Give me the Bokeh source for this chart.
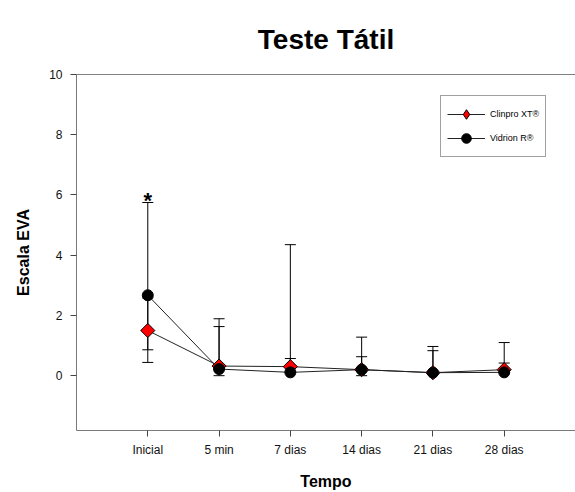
from bokeh.plotting import figure
from bokeh.models import (ColumnDataSource, Range1d, Whisker, TeeHead, Legend, LegendItem,
                          Span, Label, FixedTicker)
from bokeh.embed import file_html
from bokeh.resources import INLINE

# ---- data ----
title_text = "Teste Tátil"
categories = ["Inicial", "5 min", "7 dias", "14 dias", "21 dias", "28 dias"]
clinpro_mean = [1.50, 0.32, 0.30, 0.20, 0.10, 0.20]
clinpro_upper = [2.58, 1.63, 4.35, 0.63, 0.83, 0.42]
clinpro_lower = [0.44, 0.00, 0.30, 0.00, 0.10, 0.20]
vidrion_mean = [2.67, 0.22, 0.11, 0.20, 0.10, 0.11]
vidrion_upper = [5.75, 1.89, 0.57, 1.28, 0.97, 1.10]
vidrion_lower = [0.86, 0.22, 0.11, 0.20, 0.10, 0.11]
y_ticks = [0, 2, 4, 6, 8, 10]

FONT = "Liberation Sans"
xs = list(range(1, len(categories) + 1))

p = figure(width=575, height=492, output_backend="svg", toolbar_location=None,
           x_range=Range1d(0, 7), y_range=Range1d(-1.82, 10),
           min_border_left=76, min_border_right=0, min_border_top=74, min_border_bottom=61)

p.title.text = title_text
p.title.text_font = FONT
p.title.text_font_size = "28px"
p.title.text_font_style = "bold"
p.title.text_color = "black"
p.title.align = "center"
p.title.offset = 5
p.title.standoff = 40

p.outline_line_color = None
p.xgrid.visible = False
p.ygrid.visible = False

p.xaxis.ticker = FixedTicker(ticks=xs)
p.xaxis.major_label_overrides = {i + 1: c for i, c in enumerate(categories)}
p.yaxis.ticker = FixedTicker(ticks=y_ticks)

for ax in (p.xaxis[0], p.yaxis[0]):
    ax.axis_line_color = "#7a7a7a"
    ax.major_tick_line_color = "#444444"
    ax.major_tick_out = 6
    ax.major_tick_in = 0
    ax.minor_tick_line_color = None
    ax.major_label_text_font = FONT
    ax.major_label_text_font_size = "12px"
    ax.major_label_text_color = "#111111"
    ax.axis_label_text_font = FONT
    ax.axis_label_text_font_size = "16px"
    ax.axis_label_text_font_style = "bold"
    ax.axis_label_text_color = "black"

p.xaxis.axis_label = "Tempo"
p.xaxis.major_label_standoff = 6
p.xaxis.axis_label_standoff = 13
p.yaxis.axis_label = "Escala EVA"
p.yaxis.major_label_standoff = 8
p.yaxis.axis_label_standoff = 14

p.add_layout(Span(location=10, dimension="width", line_color="black", line_width=1))

src_c = ColumnDataSource(dict(x=xs, y=clinpro_mean, up=clinpro_upper, lo=clinpro_lower))
src_v = ColumnDataSource(dict(x=xs, y=vidrion_mean, up=vidrion_upper, lo=vidrion_lower))

for src in (src_c, src_v):
    p.add_layout(Whisker(source=src, base="x", upper="up", lower="lo",
                         line_color="black", line_width=1,
                         upper_head=TeeHead(size=11, line_color="black"),
                         lower_head=TeeHead(size=11, line_color="black")))

l_c = p.line("x", "y", source=src_c, line_color="#222222", line_width=1)
l_v = p.line("x", "y", source=src_v, line_color="#222222", line_width=1)
m_c = p.scatter("x", "y", source=src_c, marker="square", size=10, angle=0.785398,
                fill_color="red", line_color="black", line_width=1)
m_v = p.scatter("x", "y", source=src_v, marker="circle", size=11,
                fill_color="black", line_color="black")

# legend key only (legend glyphs ignore marker angle); NaN position draws nothing in the plot
key_src = ColumnDataSource(dict(x=[float("nan")], y=[float("nan")]))
m_c_leg = p.scatter("x", "y", source=key_src, marker="diamond", size=18,
                    fill_color="red", line_color="black", line_width=1)

legend = Legend(items=[LegendItem(label="Clinpro XT®", renderers=[l_c, m_c_leg]),
                       LegendItem(label="Vidrion R®", renderers=[l_v, m_v])],
                location=(364, 273), glyph_width=38, glyph_height=24,
                label_text_font=FONT, label_text_font_size="9px", label_standoff=5,
                label_text_color="black",
                padding=6, spacing=0, margin=0, border_line_color="#444444",
                border_line_width=1, background_fill_alpha=1, label_height=20)
p.add_layout(legend)

p.add_layout(Label(x=1, y=5.82, text="*", text_align="center", text_baseline="alphabetic",
                   text_font=FONT, text_font_size="22px", text_font_style="bold",
                   text_color="black"))

open("out.html", "w").write(file_html(p, INLINE))
